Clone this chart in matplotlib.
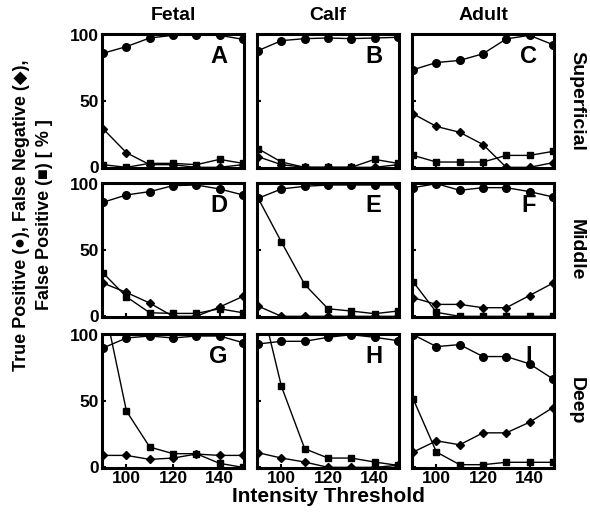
import matplotlib
matplotlib.use("Agg")
import matplotlib.pyplot as plt

plt.rcParams['font.family'] = ['Liberation Sans', 'DejaVu Sans']
plt.rcParams['font.weight'] = 'bold'

thresholds = [90, 100, 110, 120, 130, 140, 150]
columns = ["Fetal", "Calf", "Adult"]
rows = ["Superficial", "Middle", "Deep"]
letters = ["A", "B", "C", "D", "E", "F", "G", "H", "I"]

# true positive (circles)
tp = [
    [86, 91, 97.5, 99.5, 99.5, 99.5, 96.5],
    [88, 95.5, 97, 97.5, 97, 97.5, 98],
    [73.6, 79, 80.6, 85.6, 96.8, 99.5, 92.5],
    [86, 91.5, 94, 98.5, 99, 96, 91.5],
    [89, 96, 98, 99, 99, 99, 99],
    [97, 100, 95, 97, 97, 94, 90],
    [90, 97.5, 99, 97.5, 99, 99, 94],
    [93, 95, 95, 98, 100, 98, 95.5],
    [100, 91, 92.5, 83.5, 83.5, 78, 66.7],
]
# false negative (diamonds)
fn = [
    [29, 11, 2, 2, 0, 0, 2],
    [8, 2, 0, 0, 0, 0, 2],
    [40.3, 30.8, 26.4, 17.2, 0, 0, 3.5],
    [25, 18, 10, 0, 0, 7, 15],
    [7.7, 0, 0, 0, 0, 0, 0],
    [14, 9, 9, 6.5, 6.5, 15.7, 25],
    [9, 9, 6, 7, 10, 9, 9],
    [11, 7, 4, 0, 0, 0, 1.5],
    [11.5, 20, 17, 26, 26, 34, 45],
]
# false positive (squares)
fp = [
    [2, 0, 3, 3, 2, 6, 3],
    [14, 4, 0, 0, 0, 6, 3],
    [9, 4, 4, 4, 9, 9, 12],
    [32.6, 14.7, 2.7, 2.2, 2.2, 5.7, 2.7],
    [89, 56, 24, 5.7, 4, 2, 4],
    [26, 3, 0, 0, 0, 0, 0],
    [126, 42.4, 15.3, 10.3, 10.3, 3, 0],
    [134, 61, 14, 7, 7, 4, 1.5],
    [51.6, 11.5, 2, 2, 3.8, 3.8, 3.8],
]

W, H = 590, 512
fig = plt.figure(figsize=(W / 100, H / 100), dpi=100)

col_left = [102, 257, 412]
row_top = [34, 183, 334]
pw, ph = 142, 134

for i in range(3):
    for j in range(3):
        k = i * 3 + j
        ax = fig.add_axes([col_left[j] / W, 1 - (row_top[i] + ph) / H, pw / W, ph / H])
        ax.plot(thresholds, tp[k], color='black', lw=1, marker='o', ms=5.5)
        ax.plot(thresholds, fn[k], color='black', lw=1, marker='D', ms=4.5)
        ax.plot(thresholds, fp[k], color='black', lw=1, marker='s', ms=4.5)
        ax.set_xlim(89.5, 150.5)
        ax.set_ylim(-0.5, 100.5)
        ax.set_xticks([100, 120, 140])
        ax.set_yticks([0, 50, 100])
        ax.tick_params(direction='in', length=3, width=1.5, labelsize=12.5, pad=2)
        for s in ax.spines.values():
            s.set_linewidth(2.2)
        if j > 0:
            ax.set_yticklabels([])
        if i < 2:
            ax.set_xticklabels([])
        ax.text(0.82, 0.83, letters[k], transform=ax.transAxes, fontsize=17,
                fontweight='bold', ha='center', va='center')
        if i == 0:
            ax.set_title(columns[j], fontsize=14, fontweight='bold', pad=10)
        if j == 2:
            ax.text(1.16, 0.5, rows[i], transform=ax.transAxes, fontsize=14,
                    fontweight='bold', rotation=270, ha='center', va='center')

fig.text(328 / W, 1 - 497 / H, "Intensity Threshold", fontsize=15,
         fontweight='bold', ha='center', va='center')
fig.text(33 / W, 1 - 215 / H,
         "True Positive (\u25cf), False Negative (\u25c6),\nFalse Positive (\u25a0) [ % ]",
         fontsize=13, fontweight='bold', rotation=90, ha='center', va='center',
         multialignment='center', linespacing=1.5)

fig.savefig("out.png", dpi=100)
